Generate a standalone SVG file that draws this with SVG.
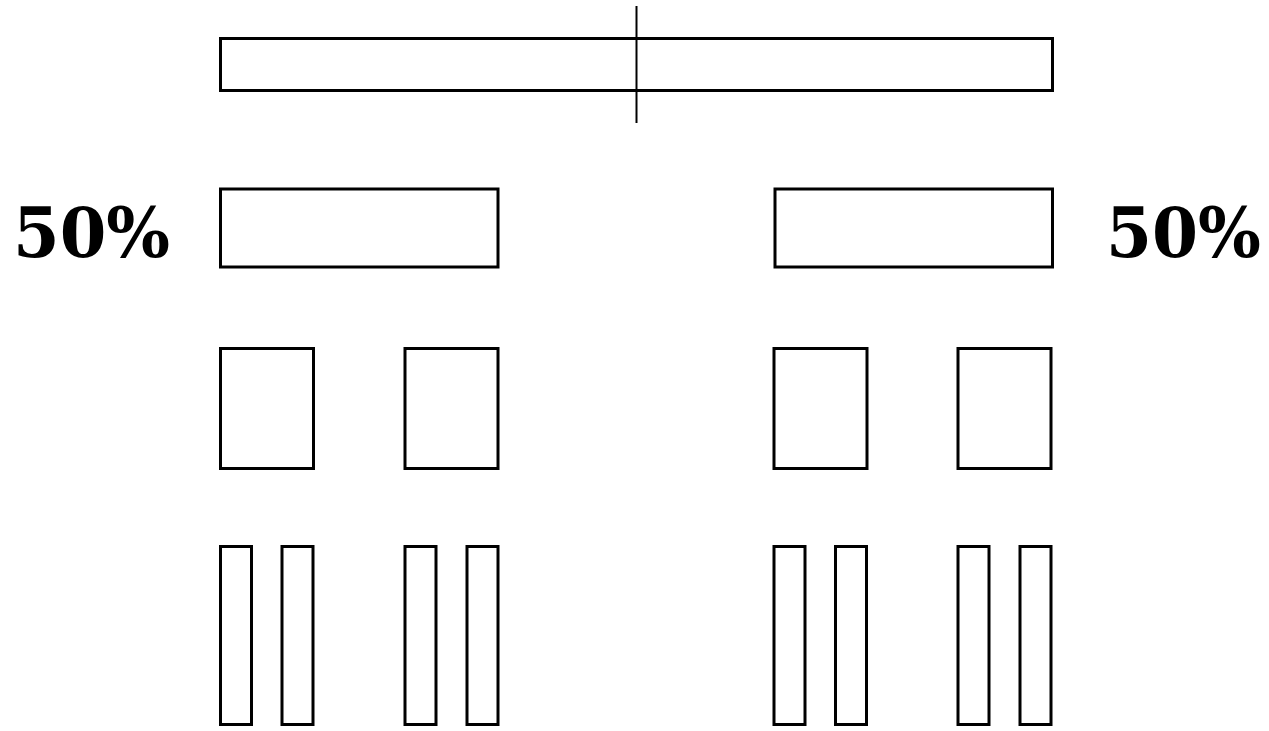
<svg xmlns="http://www.w3.org/2000/svg" width="1269" height="731" viewBox="0 0 1269 731">
<style>
rect.b{fill:#fff;stroke:#000;stroke-width:3}
.lbl{font-family:"DejaVu Serif",serif;font-weight:bold;font-size:70px;fill:#000}
</style>
<rect x="0" y="0" width="1269" height="731" fill="#fff"/>
<g id="whole"><rect class="b" x="220.5" y="38.5" width="832" height="52"/></g>
<g id="connectors"><line x1="636.5" y1="6" x2="636.5" y2="123" stroke="#000" stroke-width="2"/></g>
<g id="half-left"><rect class="b" x="220.5" y="189" width="277.5" height="78"/></g>
<g id="half-right"><rect class="b" x="775" y="189" width="277.5" height="78"/></g>
<g id="label-left"><text class="lbl" x="13" y="257" textLength="157" lengthAdjust="spacingAndGlyphs">50%</text></g>
<g id="label-right"><text class="lbl" x="1106" y="257" textLength="155" lengthAdjust="spacingAndGlyphs">50%</text></g>
<g id="quarter-1"><rect class="b" x="220.5" y="348.5" width="93" height="120"/></g>
<g id="quarter-2"><rect class="b" x="405" y="348.5" width="93" height="120"/></g>
<g id="quarter-3"><rect class="b" x="774" y="348.5" width="93" height="120"/></g>
<g id="quarter-4"><rect class="b" x="958" y="348.5" width="93" height="120"/></g>
<g id="eighth-1"><rect class="b" x="220.5" y="546.5" width="31" height="178"/></g>
<g id="eighth-2"><rect class="b" x="282" y="546.5" width="31" height="178"/></g>
<g id="eighth-3"><rect class="b" x="405" y="546.5" width="31" height="178"/></g>
<g id="eighth-4"><rect class="b" x="467" y="546.5" width="31" height="178"/></g>
<g id="eighth-5"><rect class="b" x="774" y="546.5" width="31" height="178"/></g>
<g id="eighth-6"><rect class="b" x="835.5" y="546.5" width="31" height="178"/></g>
<g id="eighth-7"><rect class="b" x="958" y="546.5" width="31" height="178"/></g>
<g id="eighth-8"><rect class="b" x="1020" y="546.5" width="31" height="178"/></g>
</svg>
